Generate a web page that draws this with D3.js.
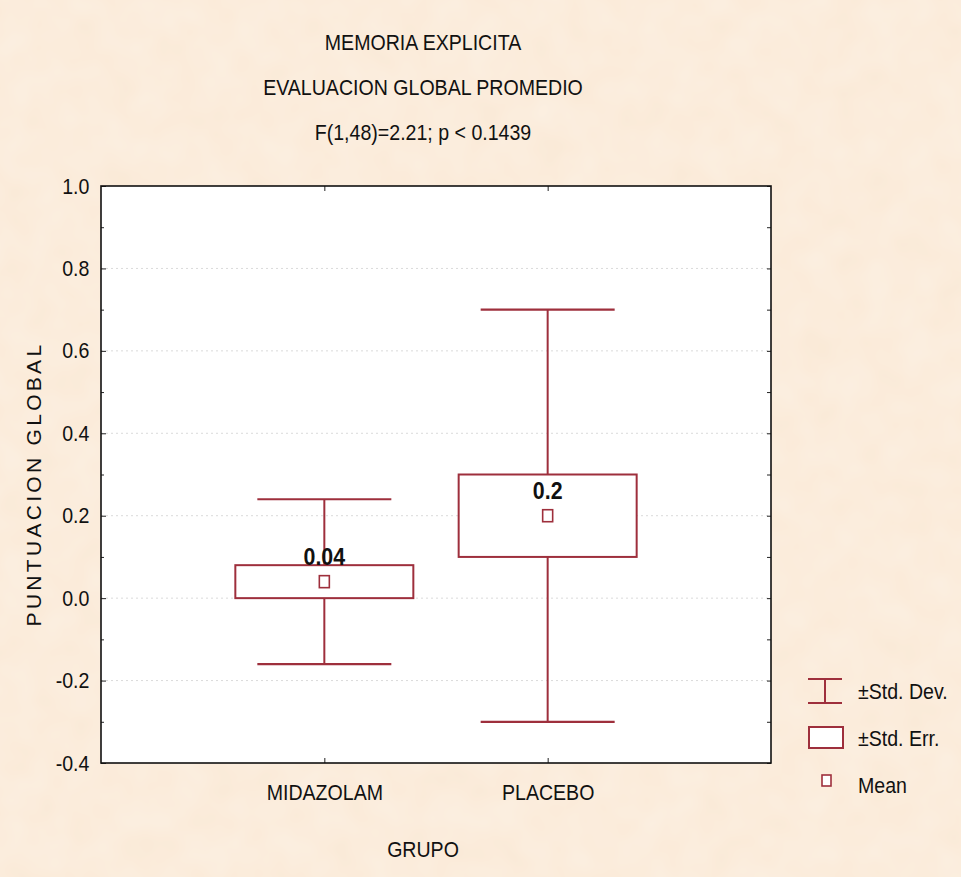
<!DOCTYPE html>
<html><head><meta charset="utf-8">
<script src="https://cdn.jsdelivr.net/npm/d3@7"></script>
<style>
html,body{margin:0;padding:0;background:#fbeedf;}
svg{display:block;}
text{font-family:"Liberation Sans",Arial,sans-serif;fill:#111;}
</style></head>
<body>
<script>
const titles = ["MEMORIA EXPLICITA", "EVALUACION GLOBAL PROMEDIO", "F(1,48)=2.21; p < 0.1439"];
const groups = ["MIDAZOLAM", "PLACEBO"];
const means = [0.04, 0.2];
const stdErr = [0.04, 0.1];
const stdDev = [0.2, 0.5];
const meanLabels = ["0.04", "0.2"];
const yTicks = [-0.4, -0.2, 0.0, 0.2, 0.4, 0.6, 0.8, 1.0];
const yMinor = [-0.3, -0.1, 0.1, 0.3, 0.5, 0.7, 0.9];
const legendItems = ["±Std. Dev.", "±Std. Err.", "Mean"];
const yTitle = "PUNTUACION GLOBAL";
const xTitle = "GRUPO";

const W = 961, H = 877;
const m = {left:101, top:186, right:190, bottom:114};
const pw = W - m.left - m.right, ph = H - m.top - m.bottom;
const col = "#9e2f3c";
const FS = 22, SX = 0.89;

const svg = d3.select("body").append("svg").attr("width", W).attr("height", H);
const defs = svg.append("defs");
const f = defs.append("filter").attr("id","tex").attr("x",0).attr("y",0).attr("width","100%").attr("height","100%");
f.append("feTurbulence").attr("type","fractalNoise").attr("baseFrequency","0.03").attr("numOctaves",2).attr("seed",3);
f.append("feColorMatrix").attr("type","matrix").attr("values","0 0 0 0 1  0 0 0 0 0.97  0 0 0 0 0.93  0 0 0 0.35 0");
svg.append("rect").attr("width",W).attr("height",H).attr("fill","#fae9d6");
svg.append("rect").attr("width",W).attr("height",H).attr("filter","url(#tex)");

// condensed text helper
function ctext(sel, x0, y0, str, anchor, size, weight) {
  return sel.append("text").attr("transform", `translate(${x0},${y0}) scale(${SX},1)`)
    .attr("text-anchor", anchor || "start").attr("font-size", size || FS)
    .attr("font-weight", weight || "normal").text(str);
}

const y = d3.scaleLinear().domain([-0.4, 1.0]).range([ph, 0]);
const x = d3.scalePoint().domain(groups).range([0, pw]).padding(1);

const g = svg.append("g").attr("transform", `translate(${m.left},${m.top})`);
g.append("rect").attr("width", pw).attr("height", ph).attr("fill", "#fff");

g.selectAll("line.grid").data(yTicks.filter(d => d > -0.4 && d < 1.0)).join("line")
  .attr("class","grid").attr("x1",0).attr("x2",pw)
  .attr("y1",d=>y(d)).attr("y2",d=>y(d))
  .attr("stroke","#dadada").attr("stroke-width",1).attr("stroke-dasharray","2,3");

const ya = g.append("g").call(d3.axisLeft(y).tickValues(yTicks).tickSize(-5).tickPadding(13).tickFormat(d3.format(".1f")));
ya.select(".domain").remove();
ya.selectAll("text").attr("font-size", FS).attr("transform",`scale(${SX},1)`).text(d => d3.format(".1f")(d).replace("−","-"));
ya.selectAll("line").attr("stroke","#222");
g.append("g").call(d3.axisLeft(y).tickValues(yMinor).tickSize(-3).tickFormat(""))
  .call(s=>{s.select(".domain").remove(); s.selectAll("line").attr("stroke","#222");});
g.append("g").attr("transform",`translate(${pw},0)`).call(d3.axisRight(y).tickValues(yTicks.concat(yMinor)).tickSize(-4).tickFormat(""))
  .call(s=>{s.select(".domain").remove(); s.selectAll("line").attr("stroke","#222");});

const xa = g.append("g").attr("transform",`translate(0,${ph})`).call(d3.axisBottom(x).tickSize(-5).tickPadding(21));
xa.select(".domain").remove();
xa.selectAll("text").attr("font-size", FS).attr("transform",`scale(${SX},1)`);
xa.selectAll("line").attr("stroke","#222");
g.append("g").call(d3.axisTop(x).tickSize(-5).tickFormat(""))
  .call(s=>{s.select(".domain").remove(); s.selectAll("line").attr("stroke","#222");});

g.append("rect").attr("width", pw).attr("height", ph).attr("fill","none").attr("stroke","#111").attr("stroke-width",1.6);

const boxHalf = 89, capHalf = 67, meanSz = 10;
const data = groups.map((k,i)=>({k, mean:means[i], se:stdErr[i], sd:stdDev[i], lab:meanLabels[i]}));
const bg = g.selectAll("g.box").data(data).join("g").attr("class","box");
bg.append("line").attr("x1",d=>x(d.k)).attr("x2",d=>x(d.k))
  .attr("y1",d=>y(d.mean+d.sd)).attr("y2",d=>y(d.mean-d.sd)).attr("stroke",col).attr("stroke-width",2);
bg.append("line").attr("x1",d=>x(d.k)-capHalf).attr("x2",d=>x(d.k)+capHalf)
  .attr("y1",d=>y(d.mean+d.sd)).attr("y2",d=>y(d.mean+d.sd)).attr("stroke",col).attr("stroke-width",2.2);
bg.append("line").attr("x1",d=>x(d.k)-capHalf).attr("x2",d=>x(d.k)+capHalf)
  .attr("y1",d=>y(d.mean-d.sd)).attr("y2",d=>y(d.mean-d.sd)).attr("stroke",col).attr("stroke-width",2.2);
bg.append("rect").attr("x",d=>x(d.k)-boxHalf).attr("width",boxHalf*2)
  .attr("y",d=>y(d.mean+d.se)).attr("height",d=>y(d.mean-d.se)-y(d.mean+d.se))
  .attr("fill","#fff").attr("stroke",col).attr("stroke-width",2);
bg.append("rect").attr("x",d=>x(d.k)-meanSz/2).attr("y",d=>y(d.mean)-meanSz/2-1)
  .attr("width",meanSz).attr("height",meanSz+2).attr("fill","#fff").attr("stroke",col).attr("stroke-width",1.6);
bg.each(function(d){ ctext(d3.select(this), x(d.k), y(d.mean)-17, d.lab, "middle", 24, "bold"); });

titles.forEach((t,i)=> ctext(svg, 423, 50 + i*45, t, "middle", FS));

svg.append("text").attr("transform","translate(41,484) rotate(-90)").attr("text-anchor","middle")
  .attr("font-size",21).attr("letter-spacing","3.3px").text(yTitle);
ctext(svg, 423, 857, xTitle, "middle", FS);

const lg = svg.append("g").attr("transform","translate(808,0)");
lg.append("line").attr("x1",0).attr("x2",34).attr("y1",679).attr("y2",679).attr("stroke",col).attr("stroke-width",2.2);
lg.append("line").attr("x1",0).attr("x2",34).attr("y1",703).attr("y2",703).attr("stroke",col).attr("stroke-width",2.2);
lg.append("line").attr("x1",17).attr("x2",17).attr("y1",679).attr("y2",703).attr("stroke",col).attr("stroke-width",2);
lg.append("rect").attr("x",1).attr("y",727).attr("width",34).attr("height",21).attr("fill","#fff").attr("stroke",col).attr("stroke-width",2);
lg.append("rect").attr("x",14).attr("y",775).attr("width",9).attr("height",11).attr("fill","#fff").attr("stroke",col).attr("stroke-width",1.6);
legendItems.forEach((t,i)=> ctext(lg, 50, 699 + i*47, t, "start", FS));
</script>
</body></html>
